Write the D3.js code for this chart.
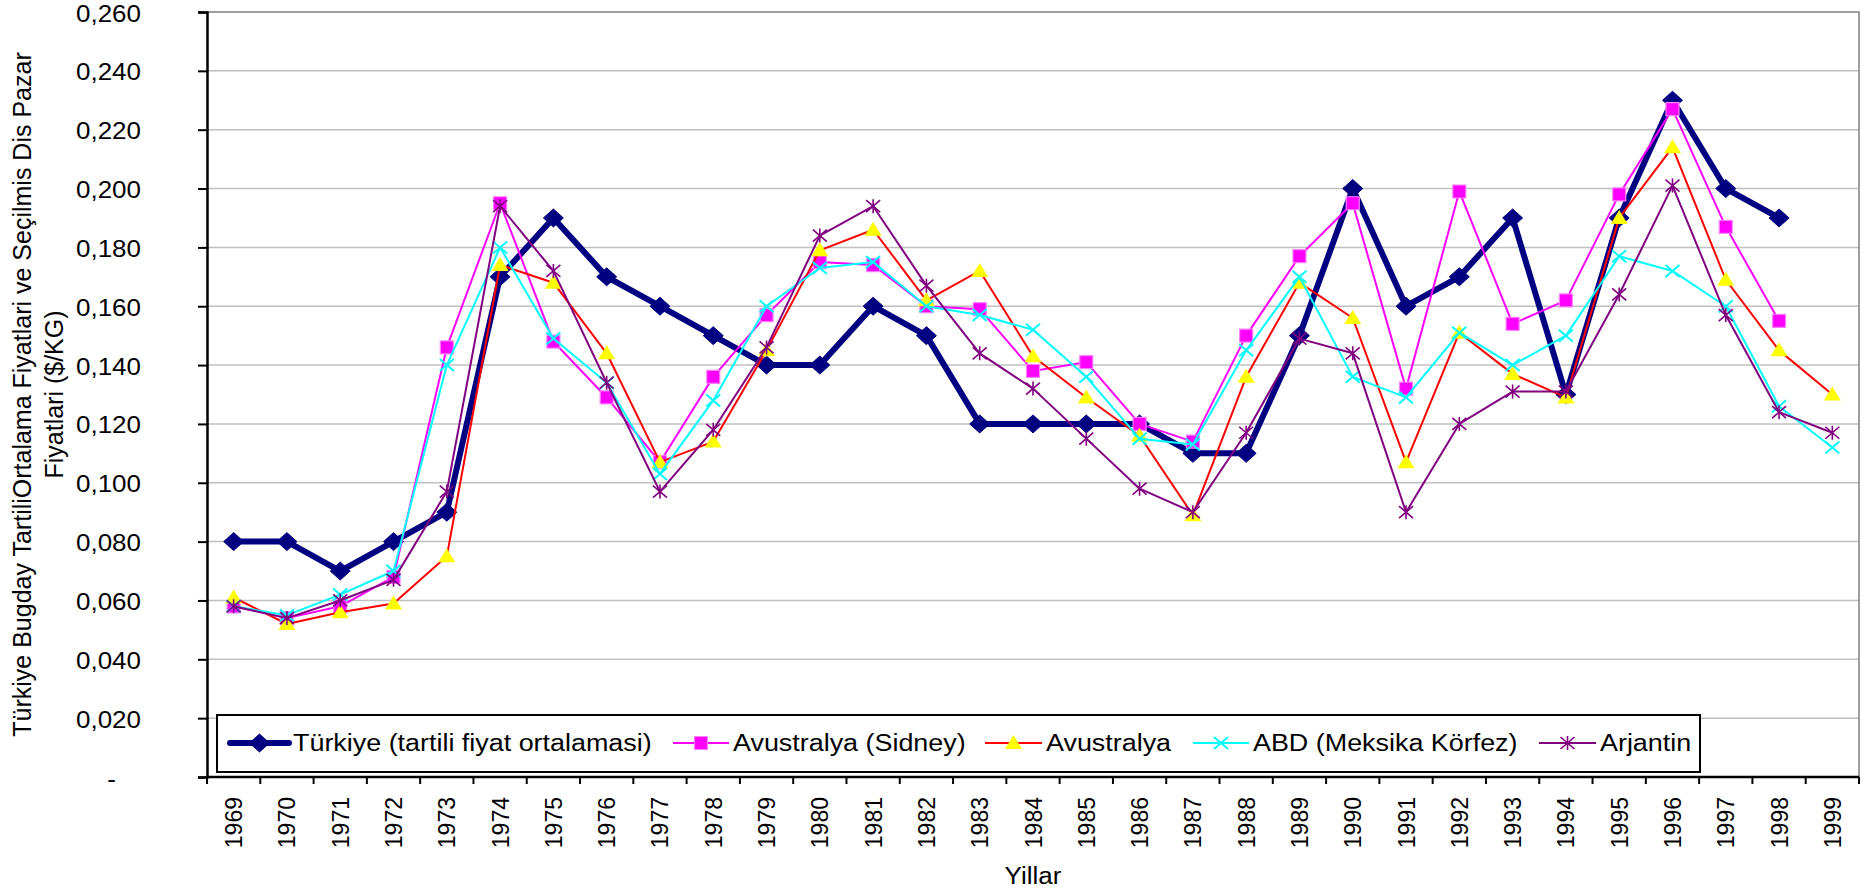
<!DOCTYPE html>
<html>
<head>
<meta charset="utf-8">
<script src="https://cdn.jsdelivr.net/npm/d3@7"></script>
<style>
  body { margin: 0; background: #fff; }
  text { font-family: "Liberation Sans", Arial, sans-serif; fill: #000; }
</style>
</head>
<body>
<div id="chart"></div>
<script>
// categories
const years = ["1969","1970","1971","1972","1973","1974","1975","1976","1977","1978",
  "1979","1980","1981","1982","1983","1984","1985","1986","1987","1988",
  "1989","1990","1991","1992","1993","1994","1995","1996","1997","1998","1999"];

// series values ($/KG)
const turkiye = [0.080,0.080,0.070,0.080,0.090,0.170,0.190,0.170,0.160,0.150,0.140,0.140,0.160,0.150,0.120,0.120,0.120,0.120,0.110,0.110,0.150,0.200,0.160,0.170,0.190,0.130,0.190,0.230,0.200,0.190,null];
const sidney = [0.058,0.054,0.058,0.068,0.146,0.195,0.148,0.129,0.107,0.136,0.157,0.175,0.174,0.160,0.159,0.138,0.141,0.120,0.114,0.150,0.177,0.195,0.132,0.199,0.154,0.162,0.198,0.227,0.187,0.155,null];
const avustralya = [0.061,0.052,0.056,0.059,0.075,0.174,0.168,0.144,0.107,0.114,0.145,0.179,0.186,0.162,0.172,0.143,0.129,0.116,0.089,0.136,0.168,0.156,0.107,0.151,0.137,0.129,0.190,0.214,0.169,0.145,0.130];
const abd = [0.058,0.055,0.062,0.070,0.140,0.180,0.149,0.134,0.103,0.128,0.160,0.173,0.175,0.160,0.157,0.152,0.136,0.115,0.113,0.145,0.170,0.136,0.129,0.151,0.140,0.150,0.177,0.172,0.160,0.126,0.112];
const arjantin = [0.058,0.054,0.060,0.067,0.097,0.194,0.172,0.134,0.097,0.118,0.146,0.184,0.194,0.167,0.144,0.132,0.115,0.098,0.090,0.117,0.149,0.144,0.090,0.120,0.131,0.131,0.164,0.201,0.157,0.124,0.117];

const seriesNames = ["Türkiye (tartili fiyat ortalamasi)", "Avustralya (Sidney)", "Avustralya", "ABD (Meksika Körfez)", "Arjantin"];
const yTicks = [0,0.02,0.04,0.06,0.08,0.10,0.12,0.14,0.16,0.18,0.20,0.22,0.24,0.26];

const yTitle1 = "Türkiye Bugday TartiliOrtalama Fiyatlari ve Seçilmis Dis Pazar";
const yTitle2 = "Fiyatlari ($/KG)";
const xTitle = "Yillar";

// marker shapes
const diamond = "M0,-9L10,0L0,9L-10,0Z";
const square = "M-6.5,-6.5L6.5,-6.5L6.5,6.5L-6.5,6.5Z";
const triangle = "M0,-8L8.5,6L-8.5,6Z";
const cross = "M-7,-6L7,6M-7,6L7,-6";
const star = "M-7,-6L7,6M-7,6L7,-6M0,-7L0,7";

const series = [
  {name: seriesNames[0], values: turkiye, line: "#000080", lw: 6, marker: diamond, fill: "#000080", stroke: "#000080", sw: 1},
  {name: seriesNames[1], values: sidney, line: "#FF00FF", lw: 2, marker: square, fill: "#FF00FF", stroke: "#FF80FF", sw: 1.2},
  {name: seriesNames[2], values: avustralya, line: "#FF0000", lw: 2, marker: triangle, fill: "#FFFF00", stroke: "none", sw: 0},
  {name: seriesNames[3], values: abd, line: "#00FFFF", lw: 2, marker: cross, fill: "none", stroke: "#00FFFF", sw: 2},
  {name: seriesNames[4], values: arjantin, line: "#800080", lw: 2, marker: star, fill: "none", stroke: "#800080", sw: 1.6}
];

const W = 1867, H = 893;
const pLeft = 207, pRight = 1859, pTop = 12, pBottom = 777;
const fs = 23, stretch = 1.13, legStretch = 1.17;

const svg = d3.select("#chart").append("svg")
  .attr("width", W).attr("height", H);

const x = d3.scaleBand().domain(years).range([pLeft, pRight]);
const y = d3.scaleLinear().domain([0, 0.26]).range([pBottom, pTop]);

// gridlines
svg.append("g").selectAll("line").data(yTicks.filter(d => d > 0 && d < 0.26)).enter()
  .append("line")
  .attr("x1", pLeft).attr("x2", pRight)
  .attr("y1", d => y(d)).attr("y2", d => y(d))
  .attr("stroke", "#c0c0c0").attr("stroke-width", 1.5);

// plot area border (top, right)
svg.append("path")
  .attr("d", `M${pLeft},${y(0.26)}H${pRight}V${pBottom}`)
  .attr("fill", "none").attr("stroke", "#808080").attr("stroke-width", 1.5);

// y axis
const yAxis = d3.axisLeft(y).tickValues(yTicks).tickSize(9).tickFormat("");
const gy = svg.append("g").attr("transform", `translate(${pLeft},0)`).call(yAxis);
gy.select(".domain").attr("stroke", "#000").attr("stroke-width", 2.5);
gy.selectAll(".tick line").attr("stroke", "#000").attr("stroke-width", 2);
gy.selectAll(".tick text").remove();
gy.selectAll(".tick").append("text")
  .attr("text-anchor", "end")
  .attr("transform", d => `translate(${d === 0 ? -91 : -66},9) scale(${stretch},1)`)
  .style("font-size", fs + "px")
  .text(d => d === 0 ? "-" : d3.format(".3f")(d).replace(".", ","));

// x axis with ticks at category boundaries
const gx = svg.append("g").attr("transform", `translate(0,${pBottom})`);
gx.append("line").attr("x1", pLeft).attr("x2", pRight).attr("y1", 0).attr("y2", 0)
  .attr("stroke", "#000").attr("stroke-width", 2.5);
gx.selectAll("line.tk").data(years.concat(["end"])).enter().append("line")
  .attr("class", "tk")
  .attr("x1", (d, i) => pLeft + i * x.bandwidth())
  .attr("x2", (d, i) => pLeft + i * x.bandwidth())
  .attr("y1", 0).attr("y2", 7)
  .attr("stroke", "#000").attr("stroke-width", 2);
gx.selectAll("text.yr").data(years).enter().append("text")
  .attr("class", "yr")
  .attr("text-anchor", "end")
  .attr("transform", d => `translate(${x(d) + x.bandwidth() / 2 + 8.5},20) rotate(-90)`)
  .style("font-size", fs + "px")
  .text(d => d);

// axis titles
svg.append("text")
  .attr("text-anchor", "middle")
  .attr("transform", `translate(${(pLeft + pRight) / 2},884) scale(${stretch},1)`)
  .style("font-size", fs + "px")
  .text(xTitle);
svg.append("text")
  .attr("text-anchor", "middle")
  .attr("transform", `translate(31,${(pTop + pBottom) / 2}) rotate(-90)`)
  .style("font-size", "25px")
  .text(yTitle1);
svg.append("text")
  .attr("text-anchor", "middle")
  .attr("transform", `translate(63,${(pTop + pBottom) / 2}) rotate(-90)`)
  .style("font-size", "25px")
  .text(yTitle2);

// series
const cx = i => x(years[i]) + x.bandwidth() / 2;
series.forEach(s => {
  const pts = s.values.map((v, i) => ({i, v}));
  const line = d3.line()
    .defined(d => d.v !== null)
    .x(d => cx(d.i)).y(d => y(d.v));
  svg.append("path").datum(pts)
    .attr("d", line)
    .attr("fill", "none").attr("stroke", s.line)
    .attr("stroke-width", s.lw).attr("stroke-linejoin", "round");
  svg.append("g").selectAll("path").data(pts.filter(d => d.v !== null)).enter()
    .append("path")
    .attr("d", s.marker)
    .attr("transform", d => `translate(${cx(d.i)},${y(d.v)})`)
    .attr("fill", s.fill).attr("stroke", s.stroke).attr("stroke-width", s.sw);
});

// legend
const legX = [230, 673, 985, 1193, 1539];
const legLen = [59, 56, 57, 56, 57];
const lg = svg.append("g");
lg.append("rect").attr("x", 217).attr("y", 715).attr("width", 1483).attr("height", 57)
  .attr("fill", "#fff").attr("stroke", "#000").attr("stroke-width", 2);
series.forEach((s, k) => {
  const ly = 743;
  lg.append("line").attr("x1", legX[k]).attr("x2", legX[k] + legLen[k])
    .attr("y1", ly).attr("y2", ly)
    .attr("stroke", s.line).attr("stroke-width", s.lw).attr("stroke-linecap", k === 0 ? "round" : "butt");
  lg.append("path").attr("d", s.marker)
    .attr("transform", `translate(${legX[k] + legLen[k] / 2},${ly})`)
    .attr("fill", s.fill).attr("stroke", s.stroke).attr("stroke-width", s.sw);
  lg.append("text")
    .attr("transform", `translate(${legX[k] + legLen[k] + 4},${ly + 8}) scale(${legStretch},1)`)
    .style("font-size", fs + "px")
    .text(s.name);
});
</script>
</body>
</html>
